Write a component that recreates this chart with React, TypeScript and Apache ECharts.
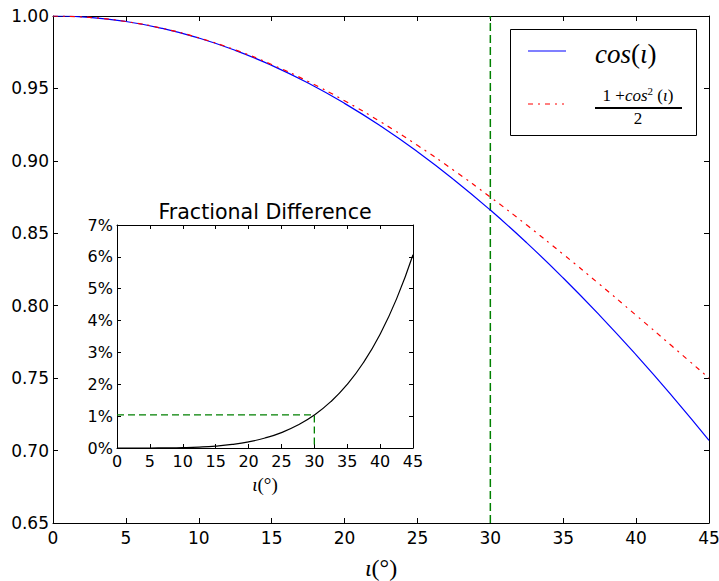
import React, { useEffect, useRef } from "react";
import * as echarts from "echarts";

// Inclination angle (degrees)
const angles = [0, 2.5, 5, 7.5, 10, 12.5, 15, 17.5, 20, 22.5, 25, 27.5, 30, 32.5, 35, 37.5, 40, 42.5, 45];
// cos(iota)
const cosValues = [1.0, 0.99905, 0.99619, 0.99144, 0.98481, 0.9763, 0.96593, 0.95372, 0.93969, 0.92388, 0.90631, 0.88701, 0.86603, 0.84339, 0.81915, 0.79335, 0.76604, 0.73728, 0.70711];
// (1 + cos^2(iota)) / 2
const halfOnePlusCosSq = [1.0, 0.99905, 0.9962, 0.99148, 0.98492, 0.97658, 0.96651, 0.95479, 0.94151, 0.92678, 0.9107, 0.89339, 0.875, 0.85566, 0.83551, 0.81471, 0.79341, 0.77179, 0.75];
// Fractional difference (%)
const fracDiffPct = [0, 0.0, 0.0007, 0.0037, 0.0117, 0.0288, 0.0601, 0.1123, 0.1935, 0.3136, 0.4843, 0.7197, 1.0363, 1.4541, 1.9963, 2.6913, 3.5726, 4.6809, 6.066];
// Reference marker
const markAngle = [30];
const markFrac = [1.04];

const W = 719;
const H = 581;

export default function App() {
  const ref = useRef<HTMLDivElement>(null);
  useEffect(() => {
    if (!ref.current) return;
    const chart = echarts.init(ref.current, null, { renderer: "svg" });
    const tickFont = "DejaVu Sans";
    const mathFont = "Liberation Serif";
    const axisCommon = (extra: any) => ({
      type: "value",
      axisLine: { show: true, onZero: false, lineStyle: { color: "#000", width: 1 } },
      splitLine: { show: false },
      ...extra,
    });
    const labelName = {
      rich: {
        it: { fontFamily: mathFont, fontStyle: "italic", fontSize: 24, color: "#000" },
        n: { fontFamily: mathFont, fontSize: 24, color: "#000" },
      },
    };
    const labelNameSmall = {
      rich: {
        it: { fontFamily: mathFont, fontStyle: "italic", fontSize: 19, color: "#000" },
        n: { fontFamily: mathFont, fontSize: 19, color: "#000" },
      },
    };
    const option: any = {
      animation: false,
      backgroundColor: "#fff",
      grid: [
        { left: 53, top: 16, width: 656, height: 507, show: false, outerBoundsMode: "none", containLabel: false },
        { left: 117, top: 225, width: 296, height: 223, show: true, backgroundColor: "#fff", borderWidth: 0, outerBoundsMode: "none", containLabel: false },
      ],
      xAxis: [
        axisCommon({
          gridIndex: 0, min: 0, max: 45, interval: 5, position: "bottom",
          axisTick: { show: true, inside: true, length: 5, lineStyle: { color: "#000" } },
          axisLabel: { color: "#000", fontSize: 17, fontFamily: tickFont, margin: 6 },
          name: "{it|ι}{n|(°)}", nameLocation: "middle", nameGap: 33, nameTextStyle: labelName,
        }),
        axisCommon({
          gridIndex: 0, min: 0, max: 45, interval: 5, position: "top",
          axisTick: { show: true, inside: true, length: 5, lineStyle: { color: "#000" } },
          axisLabel: { show: false },
        }),
        axisCommon({
          gridIndex: 1, min: 0, max: 45, interval: 5, position: "bottom",
          axisTick: { show: true, inside: true, length: 4, lineStyle: { color: "#000" } },
          axisLabel: { color: "#000", fontSize: 16, fontFamily: tickFont, margin: 5 },
          name: "{it|ι}{n|(°)}", nameLocation: "middle", nameGap: 27, nameTextStyle: labelNameSmall,
        }),
        axisCommon({
          gridIndex: 1, min: 0, max: 45, interval: 5, position: "top",
          axisTick: { show: true, inside: true, length: 4, lineStyle: { color: "#000" } },
          axisLabel: { show: false },
        }),
      ],
      yAxis: [
        axisCommon({
          gridIndex: 0, min: 0.65, max: 1.0, interval: 0.05, position: "left",
          axisTick: { show: true, inside: true, length: 5, lineStyle: { color: "#000" } },
          axisLabel: { color: "#000", fontSize: 17, fontFamily: tickFont, margin: 4, formatter: (v: number) => v.toFixed(2) },
        }),
        axisCommon({
          gridIndex: 0, min: 0.65, max: 1.0, interval: 0.05, position: "right",
          axisTick: { show: true, inside: true, length: 5, lineStyle: { color: "#000" } },
          axisLabel: { show: false },
        }),
        axisCommon({
          gridIndex: 1, min: 0, max: 7, interval: 1, position: "left",
          axisTick: { show: true, inside: true, length: 4, lineStyle: { color: "#000" } },
          axisLabel: { color: "#000", fontSize: 16, fontFamily: tickFont, margin: 4, formatter: "{value}%" },
        }),
        axisCommon({
          gridIndex: 1, min: 0, max: 7, interval: 1, position: "right",
          axisTick: { show: true, inside: true, length: 4, lineStyle: { color: "#000" } },
          axisLabel: { show: false },
        }),
      ],
      series: [
        {
          type: "line", xAxisIndex: 0, yAxisIndex: 0, symbol: "none", smooth: 0.5,
          data: angles.map((a, i) => [a, cosValues[i]]),
          lineStyle: { color: "#0000ff", width: 1.2 }, z: 3,
        },
        {
          type: "line", xAxisIndex: 0, yAxisIndex: 0, symbol: "none", smooth: 0.5,
          data: angles.map((a, i) => [a, halfOnePlusCosSq[i]]),
          lineStyle: { color: "#ff0000", width: 1.2, type: [5, 5, 2, 5] }, z: 3,
        },
        {
          type: "line", xAxisIndex: 0, yAxisIndex: 0, symbol: "none",
          data: [[markAngle[0], 0.65], [markAngle[0], 1.0]],
          lineStyle: { color: "#008000", width: 1.5, type: [8, 4] }, z: 2,
        },
        {
          type: "line", xAxisIndex: 2, yAxisIndex: 2, symbol: "none", smooth: 0.5,
          data: angles.map((a, i) => [a, fracDiffPct[i]]),
          lineStyle: { color: "#000", width: 1.2 }, z: 3,
        },
        {
          type: "line", xAxisIndex: 2, yAxisIndex: 2, symbol: "none",
          data: [[0, markFrac[0]], [markAngle[0], markFrac[0]], [markAngle[0], 0]],
          lineStyle: { color: "#008000", width: 1.3, type: [7, 4] }, z: 2,
        },
      ],
      graphic: [
        {
          type: "text", x: 265, y: 212, z: 10,
          style: { text: "Fractional Difference", fontFamily: tickFont, fontSize: 20.6, fill: "#000", align: "center", verticalAlign: "middle" },
        },
        {
          type: "rect", z: 10, shape: { x: 510.5, y: 29.5, width: 186, height: 106 },
          style: { fill: "#fff", stroke: "#000", lineWidth: 1 },
        },
        {
          type: "line", z: 11, shape: { x1: 528, y1: 51, x2: 566, y2: 51 },
          style: { stroke: "#0000ff", lineWidth: 1.2 },
        },
        {
          type: "text", x: 595, y: 54, z: 11,
          style: {
            text: "{it|cos}{n|(}{it|ι}{n|)}", verticalAlign: "middle", align: "left",
            rich: {
              it: { fontFamily: mathFont, fontStyle: "italic", fontSize: 27, fill: "#000" },
              n: { fontFamily: mathFont, fontSize: 27, fill: "#000" },
            },
          },
        },
        {
          type: "line", z: 11, shape: { x1: 528, y1: 104, x2: 564, y2: 104 },
          style: { stroke: "#ff0000", lineWidth: 1.2, lineDash: [5, 5, 2, 5] },
        },
        {
          type: "text", x: 638, y: 95, z: 11,
          style: {
            text: "{n|1 +}{it|cos}{sup|2}{n| (}{it|ι}{n|)}", verticalAlign: "middle", align: "center",
            rich: {
              it: { fontFamily: mathFont, fontStyle: "italic", fontSize: 17, fill: "#000" },
              n: { fontFamily: mathFont, fontSize: 17, fill: "#000" },
              sup: { fontFamily: mathFont, fontSize: 11, fill: "#000", verticalAlign: "top", padding: [0, 0, 8, 0] },
            },
          },
        },
        {
          type: "line", z: 11, shape: { x1: 595, y1: 108, x2: 682, y2: 108 },
          style: { stroke: "#000", lineWidth: 2 },
        },
        {
          type: "text", x: 638, y: 118, z: 11,
          style: { text: "2", fontFamily: mathFont, fontSize: 17, fill: "#000", align: "center", verticalAlign: "middle" },
        },
      ],
    };
    chart.setOption(option);
    return () => chart.dispose();
  }, []);
  return (
    <div
      ref={ref}
      style={{ position: "fixed", left: 0, top: 0, width: W + "px", height: H + "px", background: "#fff" }}
    />
  );
}
